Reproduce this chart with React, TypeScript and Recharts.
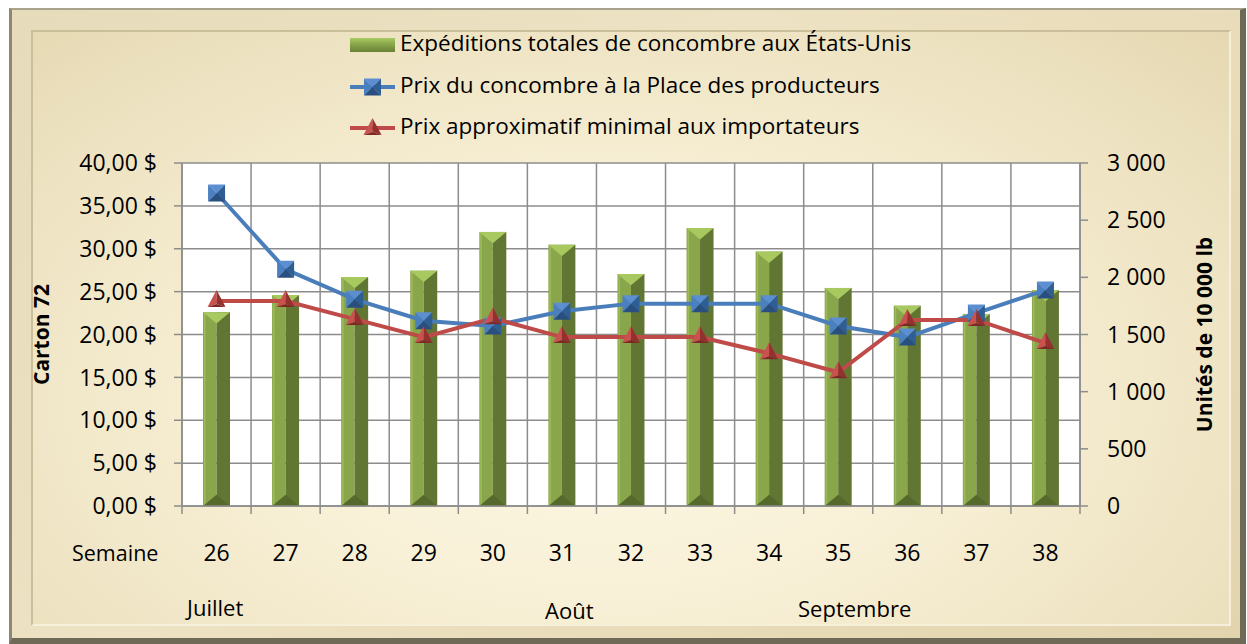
import React from 'react';
import { ComposedChart, Bar, Line, XAxis, YAxis, CartesianGrid } from 'recharts';

const weeks = [26, 27, 28, 29, 30, 31, 32, 33, 34, 35, 36, 37, 38];
const shipments = [1695, 1845, 2003, 2058, 2397, 2285, 2029, 2431, 2225, 1907, 1752, 1680, 1889];
const producerPrice = [36.5, 27.6, 24.1, 21.6, 21.0, 22.7, 23.6, 23.6, 23.6, 21.0, 19.7, 22.5, 25.2];
const importerMinPrice = [23.9, 23.9, 21.8, 19.7, 21.9, 19.7, 19.7, 19.7, 17.8, 15.6, 21.7, 21.7, 19.0];
const weekBoundaries = [25.5, 26.5, 27.5, 28.5, 29.5, 30.5, 31.5, 32.5, 33.5, 34.5, 35.5, 36.5, 37.5, 38.5];
const leftTicks = [0, 5, 10, 15, 20, 25, 30, 35, 40];
const rightTicks = [0, 500, 1000, 1500, 2000, 2500, 3000];
const seriesNames = [
  'Expéditions totales de concombre aux États-Unis',
  'Prix du concombre à la Place des producteurs',
  'Prix approximatif minimal aux importateurs',
];
const monthLabels = ['Juillet', 'Août', 'Septembre'];
const weekAxisTitle = 'Semaine';
const leftAxisTitle = 'Carton 72';
const rightAxisTitle = 'Unités de 10 000 lb';

const data = weeks.map((w, i) => ({
  week: w,
  shipments: shipments[i],
  producer: producerPrice[i],
  importer: importerMinPrice[i],
}));

const FONT = "'Open Sans', 'Noto Sans', sans-serif";
const BLUE = '#4a7ebb';
const RED = '#be4b48';

const fmtLeft = (v: number) => v.toFixed(2).replace('.', ',') + ' $';
const fmtRight = (v: number) => (v >= 1000 ? `${Math.floor(v / 1000)} ${String(v % 1000).padStart(3, '0')}` : String(v));

const BarShape = (props: any) => {
  const { x, y, width, height } = props;
  if (!height || height <= 0) return null;
  const half = width / 2;
  const cap = Math.min(width * 0.42, height / 2);
  return (
    <g>
      <rect x={x} y={y} width={half} height={height} fill="#8aa64b" />
      <rect x={x + half} y={y} width={width - half} height={height} fill="#627634" />
      <rect x={x + 1} y={y} width={1.5} height={height} fill="#9dbb5a" />
      <polygon points={`${x},${y} ${x + width},${y} ${x + half},${y + cap}`} fill="#a7c960" />
      <polygon points={`${x},${y + height} ${x + width},${y + height} ${x + half},${y + height - cap}`} fill="#56692c" />
    </g>
  );
};

const SquareMarker = (props: any) => {
  const { cx, cy, index } = props;
  if (cx == null || cy == null) return <g key={`s-${index}`} />;
  const s = 8.5;
  const l = cx - s, r = cx + s, t = cy - s, b = cy + s;
  return (
    <g key={`s-${index}`}>
      <polygon points={`${l},${t} ${r},${t} ${cx},${cy}`} fill="#5b8fd1" />
      <polygon points={`${l},${t} ${l},${b} ${cx},${cy}`} fill="#4a7fc0" />
      <polygon points={`${r},${t} ${r},${b} ${cx},${cy}`} fill="#2f5e95" />
      <polygon points={`${l},${b} ${r},${b} ${cx},${cy}`} fill="#284f80" />
    </g>
  );
};

const TriangleMarker = (props: any) => {
  const { cx, cy, index } = props;
  if (cx == null || cy == null) return <g key={`t-${index}`} />;
  const w = 9, top = cy - 11, bot = cy + 6;
  return (
    <g key={`t-${index}`}>
      <polygon points={`${cx},${top} ${cx - w},${bot} ${cx},${bot - 3}`} fill="#c9524f" />
      <polygon points={`${cx},${top} ${cx + w},${bot} ${cx},${bot - 3}`} fill="#94302e" />
      <polygon points={`${cx - w},${bot} ${cx + w},${bot} ${cx},${bot - 3}`} fill="#7e2826" />
    </g>
  );
};

const WeekTick = (props: any) => {
  const { x, y, payload } = props;
  return (
    <text x={x} y={y + 54} textAnchor="middle" fontSize={23} fontFamily={FONT} fill="#000">
      {payload.value}
    </text>
  );
};

const EmptyTick = () => <g />;

const textStyle: React.CSSProperties = {
  position: 'absolute',
  fontFamily: FONT,
  color: '#000',
  whiteSpace: 'nowrap',
  lineHeight: '1',
};

export default function App() {
  return (
    <div style={{ position: 'absolute', left: 0, top: 0, width: 1247, height: 644, background: '#fff', overflow: 'hidden' }}>
      {/* outer frame */}
      <div
        style={{
          position: 'absolute', left: 9, top: 8, width: 1237, height: 636, boxSizing: 'border-box',
          borderTop: '2px solid #a8a28c', borderLeft: '3px solid #8e8872',
          borderRight: '6px solid #6f6a58', borderBottom: '6px solid #6f6a58',
          background: 'linear-gradient(135deg, #e6dbba 0%, #ede2c3 40%, #e2d5ae 100%)',
        }}
      />
      {/* inner panel */}
      <div
        style={{
          position: 'absolute', left: 31, top: 30, width: 1200, height: 596, boxSizing: 'border-box',
          borderTop: '2px solid #cbbf9b', borderLeft: '2px solid #cbbf9b',
          borderRight: '2px solid #f6efd9', borderBottom: '2px solid #f6efd9',
          background: 'radial-gradient(ellipse at 48% 62%, #fdf8e6 0%, #f8f0d6 40%, #ece1bf 80%, #e5d8b2 100%)',
        }}
      />

      <div style={{ position: 'absolute', left: 0, top: 0 }}>
        <ComposedChart
          width={1247}
          height={644}
          data={data}
          margin={{ top: 163, right: 0, bottom: 136, left: 0 }}
        >
          <XAxis
            xAxisId="bound"
            type="number"
            dataKey="week"
            domain={[25.5, 38.5]}
            ticks={weekBoundaries}
            tick={<EmptyTick />}
            tickSize={8}
            height={1}
            interval={0}
            axisLine={{ stroke: '#8c8c8c', strokeWidth: 1.5 }}
            tickLine={{ stroke: '#8c8c8c', strokeWidth: 1.5 }}
            allowDataOverflow
          />
          <XAxis
            xAxisId="cat"
            type="number"
            dataKey="week"
            domain={[25.5, 38.5]}
            ticks={weeks}
            tick={<WeekTick />}
            tickSize={0}
            tickMargin={0}
            height={1}
            axisLine={false}
            tickLine={false}
            interval={0}
            allowDataOverflow
          />
          <YAxis
            yAxisId="left"
            orientation="left"
            width={182}
            domain={[0, 40]}
            ticks={leftTicks}
            tickFormatter={fmtLeft}
            tickSize={8}
            tickMargin={17}
            interval={0}
            tick={{ fontSize: 23, fontFamily: FONT, fill: '#000' }}
            axisLine={{ stroke: '#8c8c8c', strokeWidth: 1.5 }}
            tickLine={{ stroke: '#8c8c8c', strokeWidth: 1.5 }}
            label={{
              value: leftAxisTitle,
              angle: -90,
              position: 'insideLeft',
              offset: 42,
              style: { textAnchor: 'middle', fontSize: 21, fontWeight: 700, fontFamily: FONT, fill: '#000' },
            }}
          />
          <YAxis
            yAxisId="right"
            orientation="right"
            width={167}
            domain={[0, 3000]}
            ticks={rightTicks}
            tickFormatter={fmtRight}
            tickSize={8}
            tickMargin={19}
            interval={0}
            tick={{ fontSize: 23, fontFamily: FONT, fill: '#000', textAnchor: 'start' }}
            axisLine={{ stroke: '#8c8c8c', strokeWidth: 1.5 }}
            tickLine={{ stroke: '#8c8c8c', strokeWidth: 1.5 }}
            label={{
              value: rightAxisTitle,
              angle: -90,
              position: 'insideRight',
              offset: 42,
              style: { textAnchor: 'middle', fontSize: 21, fontWeight: 700, fontFamily: FONT, fill: '#000' },
            }}
          />
          <CartesianGrid
            xAxisId="bound"
            yAxisId="left"
            stroke="#8c8c8c"
            strokeWidth={1.5}
            fill="#ffffff"
            fillOpacity={1}
            vertical={true}
            horizontal={true}
          />
          <Bar
            xAxisId="cat"
            yAxisId="right"
            dataKey="shipments"
            name={seriesNames[0]}
            barSize={27}
            shape={<BarShape />}
            isAnimationActive={false}
          />
          <Line
            xAxisId="cat"
            yAxisId="left"
            dataKey="producer"
            name={seriesNames[1]}
            stroke={BLUE}
            strokeWidth={4}
            dot={(p: any) => <SquareMarker key={`sq-${p.index}`} {...p} />}
            activeDot={false}
            isAnimationActive={false}
          />
          <Line
            xAxisId="cat"
            yAxisId="left"
            dataKey="importer"
            name={seriesNames[2]}
            stroke={RED}
            strokeWidth={4}
            dot={(p: any) => <TriangleMarker key={`tr-${p.index}`} {...p} />}
            activeDot={false}
            isAnimationActive={false}
          />
        </ComposedChart>
      </div>

      {/* legend */}
      <svg style={{ position: 'absolute', left: 348, top: 30 }} width={50} height={115}>
        <defs>
          <linearGradient id="lgGreen" x1="0" y1="0" x2="0" y2="1">
            <stop offset="0" stopColor="#a9cb63" />
            <stop offset="0.35" stopColor="#8fae4f" />
            <stop offset="1" stopColor="#6a8036" />
          </linearGradient>
        </defs>
        <rect x={2} y={8} width={45} height={14} fill="url(#lgGreen)" />
        <line x1={2} x2={47} y1={57} y2={57} stroke={BLUE} strokeWidth={4} />
        <SquareMarker cx={24.5} cy={57} index={0} />
        <line x1={2} x2={47} y1={98} y2={98} stroke={RED} strokeWidth={4} />
        <TriangleMarker cx={24.5} cy={99} index={0} />
      </svg>
      <div style={{ ...textStyle, left: 400, top: 32, fontSize: 22.5 }}>{seriesNames[0]}</div>
      <div style={{ ...textStyle, left: 400, top: 74, fontSize: 22.5 }}>{seriesNames[1]}</div>
      <div style={{ ...textStyle, left: 400, top: 115, fontSize: 22.5 }}>{seriesNames[2]}</div>

      {/* week and month labels */}
      <div style={{ ...textStyle, left: 72, top: 542, fontSize: 21.5 }}>{weekAxisTitle}</div>
      <div style={{ ...textStyle, left: 187, top: 596, fontSize: 22 }}>{monthLabels[0]}</div>
      <div style={{ ...textStyle, left: 545, top: 599, fontSize: 22 }}>{monthLabels[1]}</div>
      <div style={{ ...textStyle, left: 798, top: 597, fontSize: 22 }}>{monthLabels[2]}</div>
    </div>
  );
}
